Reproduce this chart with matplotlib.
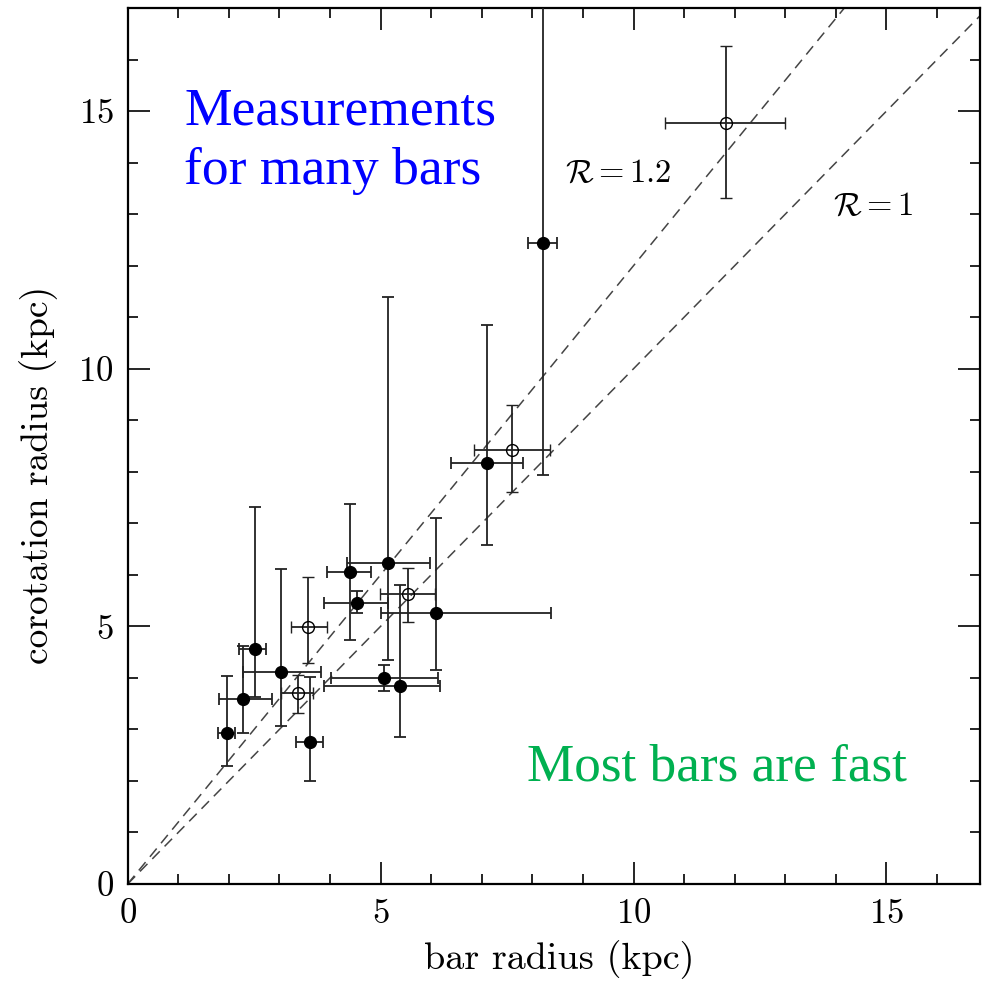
import matplotlib
matplotlib.use("Agg")
import matplotlib.pyplot as plt
import numpy as np

# bar radius vs corotation radius (kpc)
fast_x = [1.96, 2.28, 2.51, 3.04, 3.60, 4.39, 4.53, 5.14, 6.09, 5.07, 5.38, 7.11, 8.21]
fast_y = [2.94, 3.59, 4.57, 4.12, 2.76, 6.05, 5.45, 6.23, 5.25, 4.00, 3.85, 8.17, 12.44]
fast_xlo = [0.18, 0.48, 0.30, 0.76, 0.27, 0.44, 0.64, 0.80, 1.08, 1.06, 1.49, 0.71, 0.30]
fast_xhi = [0.17, 0.58, 0.23, 0.79, 0.26, 0.43, 0.61, 0.83, 2.28, 1.06, 0.79, 0.70, 0.27]
fast_ylo = [0.65, 0.65, 0.94, 1.06, 0.76, 1.32, 0.20, 1.88, 1.10, 0.26, 0.99, 1.59, 4.51]
fast_yhi = [1.10, 1.03, 2.74, 2.00, 1.26, 1.32, 0.24, 5.16, 1.86, 0.25, 1.95, 2.67, 5.00]

open_x = [3.37, 3.57, 5.54, 7.60, 11.83]
open_y = [3.70, 4.99, 5.62, 8.43, 14.77]
open_xlo = [0.33, 0.34, 0.56, 0.76, 1.20]
open_xhi = [0.29, 0.38, 0.53, 0.75, 1.17]
open_ylo = [0.39, 0.71, 0.53, 0.82, 1.46]
open_yhi = [0.35, 0.97, 0.52, 0.87, 1.49]

ratios = [1.0, 1.2]

plt.rcParams['font.family'] = 'cmr10'
plt.rcParams['mathtext.fontset'] = 'cm'
plt.rcParams['axes.formatter.use_mathtext'] = True

fig = plt.figure(figsize=(9.82, 9.82), dpi=100)
ax = fig.add_axes([0.130, 0.0998, 0.868, 0.892])

xmax, ymax = 16.85, 17.0
xx = np.array([0, xmax])
for r in ratios:
    ax.plot(xx, r * xx, ls=(0, (7, 4.5)), color='#444444', lw=1.1, zorder=1)

ebkw = dict(fmt='o', color='black', ecolor='#222222', elinewidth=1.3,
            capsize=4, capthick=1.3, ms=8.5, zorder=3)
ax.errorbar(fast_x, fast_y, xerr=[fast_xlo, fast_xhi], yerr=[fast_ylo, fast_yhi],
            mfc='black', **ebkw)
ax.errorbar(open_x, open_y, xerr=[open_xlo, open_xhi], yerr=[open_ylo, open_yhi],
            mfc='none', mew=1.0, **ebkw)

ax.set_xlim(0, xmax)
ax.set_ylim(0, ymax)
ax.set_xticks([0, 5, 10, 15])
ax.set_yticks([0, 5, 10, 15])
ax.set_xticks(np.arange(0, 17, 1), minor=True)
ax.set_yticks(np.arange(0, 18, 1), minor=True)
ax.tick_params(which='both', direction='in', top=True, right=True, width=1.2,
               labelsize=25, pad=10)
ax.tick_params(which='major', length=16)
ax.tick_params(which='minor', length=7)
for s in ax.spines.values():
    s.set_linewidth(1.6)

ax.set_xlabel('bar radius (kpc)', fontsize=27.5)
ax.set_ylabel('corotation radius (kpc)', fontsize=27)
ax.xaxis.set_label_coords(0.506, -0.064)
ax.yaxis.set_label_coords(-0.082, 0.467)

ax.text(8.65, 13.8, r'$\mathcal{R}=1.2$', fontsize=23.5, ha='left', va='center')
ax.text(13.95, 13.15, r'$\mathcal{R}=1$', fontsize=23.5, ha='left', va='center')

ax.text(1.12, 15.45, 'Measurements\nfor many bars', color='#0000ff', fontsize=38.5,
        family='Liberation Serif', ha='left', va='top', linespacing=1.3)
ax.text(7.9, 2.0, 'Most bars are fast', color='#00b050', fontsize=38.3,
        family='Liberation Serif', ha='left', va='baseline')

fig.savefig('out.png', dpi=100)
